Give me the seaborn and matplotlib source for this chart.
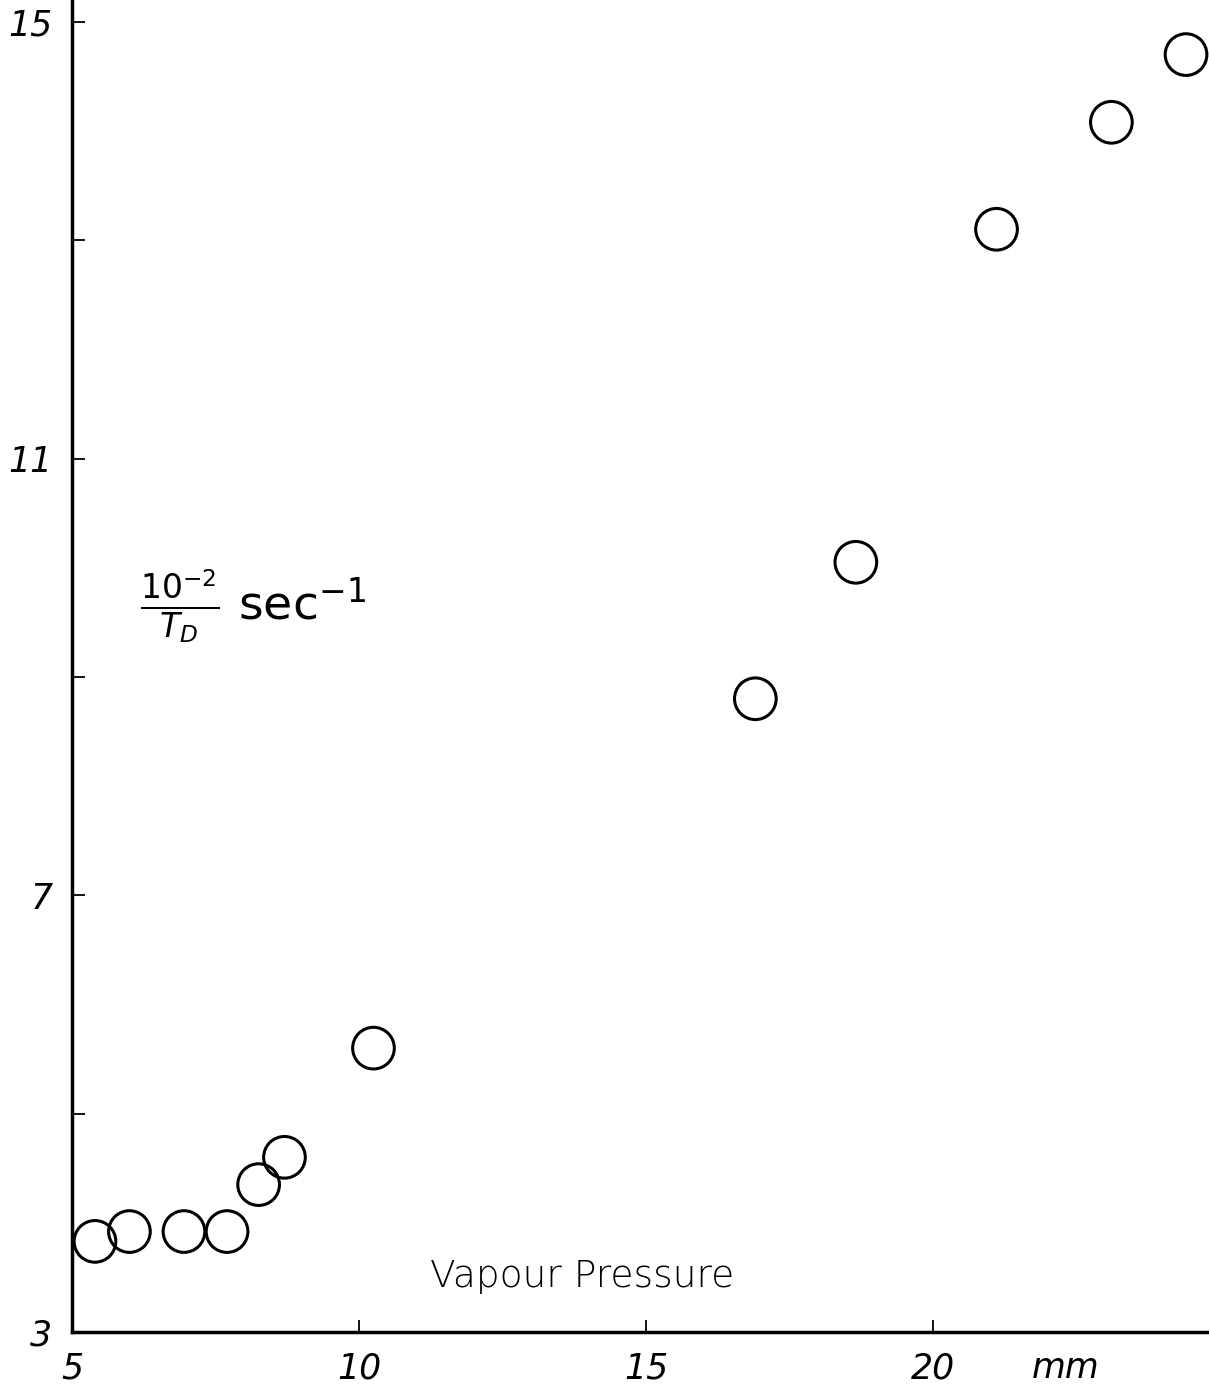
import matplotlib
matplotlib.use("Agg")
import matplotlib.pyplot as plt
import seaborn as sns
import pandas as pd

vapour_pressure = [5.4, 6.0, 6.95, 7.7, 8.25, 8.7, 10.25, 16.9, 18.65, 21.1, 23.1, 24.4]
inv_time = [3.83, 3.92, 3.92, 3.92, 4.35, 4.6, 5.6, 8.8, 10.05, 13.1, 14.08, 14.7]
x_ticks = [5, 10, 15, 20]
x_labels = ["5", "10", "15", "20"]
y_ticks = [3, 5, 7, 9, 11, 13, 15]
y_labels = ["3", "", "7", "", "11", "", "15"]

sns.set_style("white")
plt.rcParams['font.family'] = ['DejaVu Sans']
plt.rcParams['text.color'] = 'black'

df = pd.DataFrame({"p": vapour_pressure, "r": inv_time})

fig = plt.figure(figsize=(12.09, 13.92), dpi=100)
ax = fig.add_axes([72/1209, 60/1392, 1137/1209, 1332/1392])

sns.scatterplot(data=df, x="p", y="r", ax=ax, s=900, marker="o",
                facecolors="none", edgecolor="black", linewidth=2.2)

ax.set_xlim(5, 24.8)
ax.set_ylim(3, 15.2)
ax.set_xticks(x_ticks)
ax.set_xticklabels(x_labels, fontsize=25, style="italic", color="black")
ax.set_yticks(y_ticks)
ax.set_yticklabels(y_labels, fontsize=25, style="italic", color="black")
ax.tick_params(axis="both", direction="in", length=9, width=1.3, color="black",
               bottom=True, left=True)
ax.tick_params(axis="x", pad=14)
ax.tick_params(axis="y", pad=14)
for s in ["top", "right"]:
    ax.spines[s].set_visible(False)
for s in ["left", "bottom"]:
    ax.spines[s].set_color("black")
    ax.spines[s].set_linewidth(2.5)
ax.set_xlabel("")
ax.set_ylabel("")

ax.annotate("mm", xy=(22.3, 3), xycoords="data", xytext=(0, -14),
            textcoords="offset points", fontsize=25, ha="center", va="top",
            style="italic", color="black", annotation_clip=False)
ax.text(0.315, 0.042, "Vapour Pressure", transform=ax.transAxes, fontsize=27,
        fontweight="light", ha="left", va="center", color="black")
ax.text(0.06, 0.545, r"$\frac{10^{-2}}{T_D}$ sec$^{-1}$", transform=ax.transAxes,
        fontsize=34, ha="left", va="center", color="black")

fig.savefig("out.png", dpi=100)
